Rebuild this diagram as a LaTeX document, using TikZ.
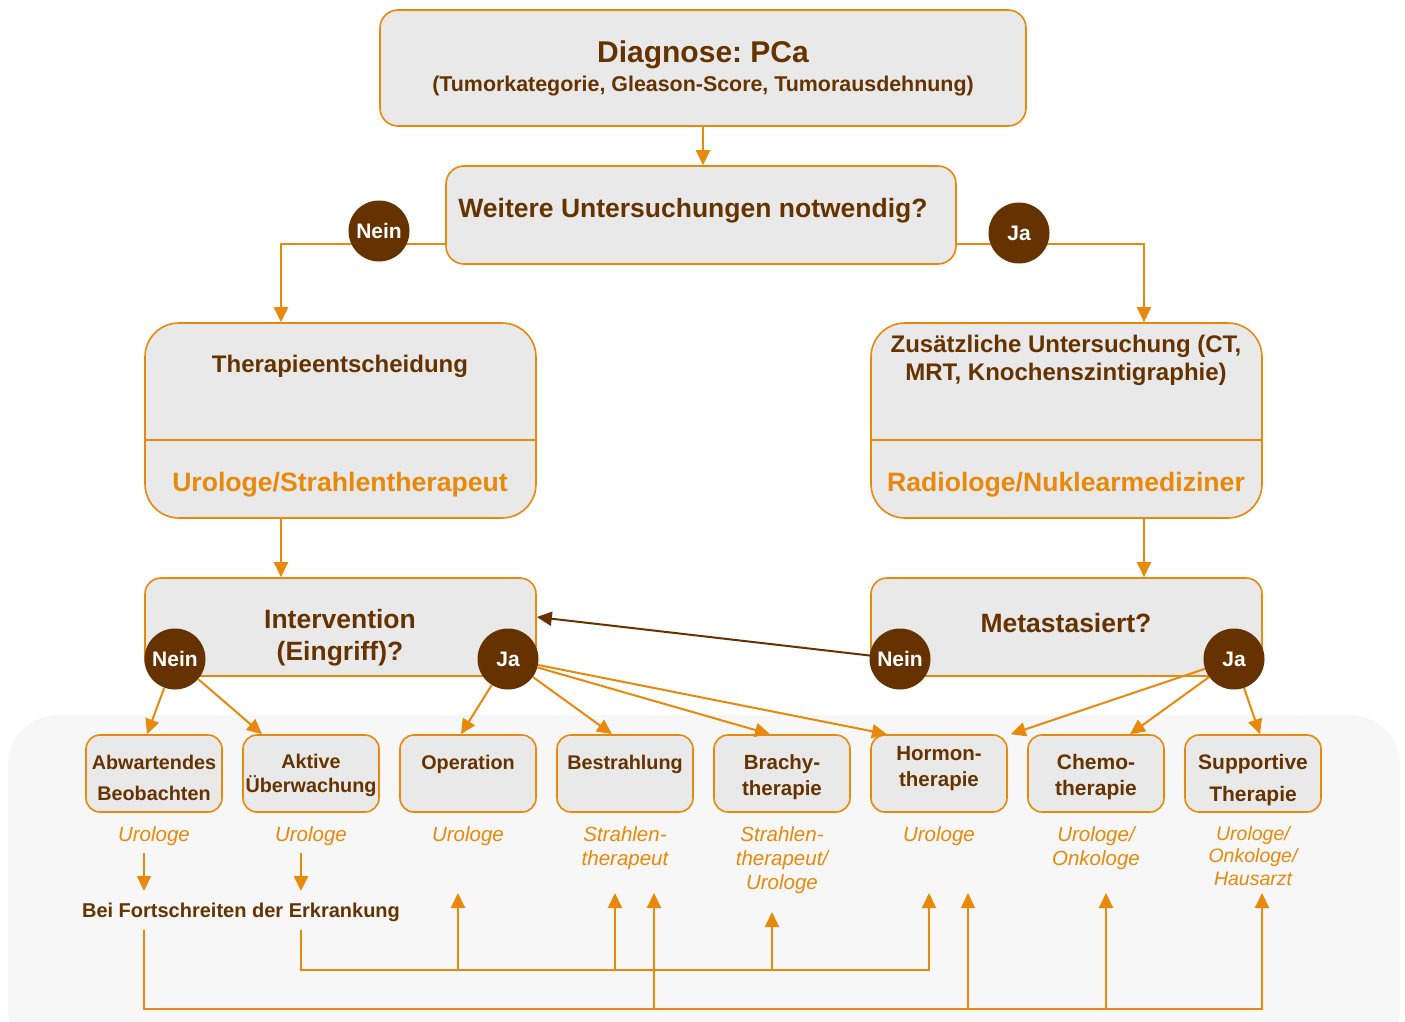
\documentclass[tikz,border=0pt]{standalone}
\usepackage{fontspec}
\setmainfont{Liberation Sans}
\usetikzlibrary{arrows.meta}
\frenchspacing
\definecolor{orC}{HTML}{E8890B}
\definecolor{brC}{HTML}{663300}
\definecolor{boxC}{HTML}{E9E9E9}
\definecolor{panC}{HTML}{F7F7F7}
\tikzset{
  box/.style={draw=orC, fill=boxC, line width=1.6pt, rounded corners=18pt, inner sep=0pt},
  bigbox/.style={box, rounded corners=34pt},
  small/.style={box, rounded corners=14pt, minimum width=136pt, minimum height=77pt},
  circ/.style={circle, fill=brC, text=white, minimum size=61pt, inner sep=0pt, font=\bfseries\fontsize{21}{24}\selectfont},
  arr/.style={draw=orC, line width=2pt, -{Triangle[width=14pt,length=15pt]}},
  arrb/.style={draw=brC, line width=2pt, -{Triangle[width=14pt,length=15pt]}},
  ln/.style={draw=orC, line width=2pt},
  ttl/.style={text=brC, font=\bfseries\fontsize{24}{28}\selectfont, align=center},
  bt/.style={text=brC, font=\bfseries\fontsize{19.8}{31}\selectfont, align=center},
  role/.style={text=orC, font=\itshape\fontsize{20.5}{24}\selectfont, align=center, anchor=north, inner sep=0pt},
  brole/.style={text=orC, font=\bfseries\fontsize{26.6}{30}\selectfont},
}
\begin{document}
\begin{tikzpicture}[x=1pt,y=-1pt]
\useasboundingbox (0,0) rectangle (1405,1021);
\fill[white] (0,0) rectangle (1405,1021);
% background panel
\fill[panC, rounded corners=50pt] (8,715) rectangle (1400,1060);

% top boxes
\node[box, minimum width=646pt, minimum height=116pt] (diag) at (703,68) {};
\node[text=brC, font=\bfseries\fontsize{30}{32}\selectfont] (diagt) at (703,55) {Diagnose: PCa};
\node[text=brC, font=\bfseries\fontsize{21.4}{24}\selectfont] (diags) at (703,86) {(Tumorkategorie, Gleason-Score, Tumorausdehnung)};

\node[box, minimum width=510pt, minimum height=98pt] (weit) at (701,215) {};
\node[text=brC, font=\bfseries\fontsize{26.5}{30}\selectfont] (weitt) at (693,211) {Weitere Untersuchungen notwendig?};

% second level
\node[bigbox, minimum width=391pt, minimum height=195pt] (ther) at (340.5,420.5) {};
\draw[ln, line width=1.6pt] (ther.west |- 0,440) -- (ther.east |- 0,440);
\node[ttl] (thert) at (340,366) {Therapieentscheidung};
\node[brole] (therr) at (340,485) {Urologe/Strahlentherapeut};

\node[bigbox, minimum width=391pt, minimum height=195pt] (zus) at (1066.5,420.5) {};
\draw[ln, line width=1.6pt] (zus.west |- 0,440) -- (zus.east |- 0,440);
\node[ttl] (zust) at (1066,360) {Zusätzliche Untersuchung (CT,\\MRT, Knochenszintigraphie)};
\node[brole] (zusr) at (1066,485) {Radiologe/Nuklearmediziner};

% third level
\node[box, rounded corners=16pt, minimum width=391pt, minimum height=98pt] (inter) at (340.5,627) {};
\node[text=brC, font=\bfseries\fontsize{26.5}{32}\selectfont, align=center] (intert) at (340,638) {Intervention\\(Eingriff)?};
\node[box, rounded corners=16pt, minimum width=391pt, minimum height=98pt] (meta) at (1066.5,627) {};
\node[text=brC, font=\bfseries\fontsize{26.5}{30}\selectfont] (metat) at (1066,623) {Metastasiert?};

% connectors top
\draw[arr] (diag.south) -- (diag.south |- weit.north);
\draw[arr] ([yshift=-29pt]weit.west) -| ([xshift=-59.5pt]ther.north);
\draw[arr] ([yshift=-29pt]weit.east) -| ([xshift=77.5pt]zus.north);
\draw[arr] ([xshift=-59.5pt]ther.south) -- ([xshift=-59.5pt]inter.north);
\draw[arr] ([xshift=77.5pt]zus.south) -- ([xshift=77.5pt]meta.north);

% bottom boxes
\node[small] (b1) at (154,773.5) {};
\node[bt] at (154,778) {Abwartendes\\Beobachten};
\node[small] (b2) at (311,773.5) {};
\node[bt, font=\bfseries\fontsize{19.8}{24}\selectfont] at (311,775) {Aktive\\Überwachung};
\node[small] (b3) at (468,773.5) {};
\node[bt] at (468,764) {Operation};
\node[small] (b4) at (625,773.5) {};
\node[bt] at (625,764) {Bestrahlung};
\node[small] (b5) at (782,773.5) {};
\node[bt, font=\bfseries\fontsize{20.5}{26}\selectfont] at (782,777) {Brachy-\\therapie};
\node[small] (b6) at (939,773.5) {};
\node[bt, font=\bfseries\fontsize{20.5}{26}\selectfont] at (939,769) {Hormon-\\therapie};
\node[small] (b7) at (1096,773.5) {};
\node[bt, font=\bfseries\fontsize{21}{26}\selectfont] at (1096,777) {Chemo-\\therapie};
\node[small] (b8) at (1253,773.5) {};
\node[bt, font=\bfseries\fontsize{21}{32}\selectfont] at (1253,780) {Supportive\\Therapie};

% roles
\node[role] (r1) at (154,826) {Urologe};
\node[role] (r2) at (311,826) {Urologe};
\node[role] (r3) at (468,826) {Urologe};
\node[role] (r4) at (625,826) {Strahlen-\\therapeut};
\node[role] (r5) at (782,826) {Strahlen-\\therapeut/\\Urologe};
\node[role] (r6) at (939,826) {Urologe};
\node[role] (r7) at (1096,826) {Urologe/\\Onkologe};
\node[role, font=\itshape\fontsize{19.5}{22.5}\selectfont] (r8) at (1253,826) {Urologe/\\Onkologe/\\Hausarzt};

\node[text=brC, font=\bfseries\fontsize{20}{22}\selectfont] (bei) at (241,912) {Bei Fortschreiten der Erkrankung};

% decision circles
\node[circ] (nein1) at (379,231) {Nein};
\node[circ] (ja1) at (1019,233) {Ja};
\draw[arrb] (900,659) -- ([yshift=10pt]inter.east);
\node[circ] (nein2) at (175,659) {Nein};
\node[circ] (ja2) at (508,659) {Ja};
\node[circ] (nein3) at (900,659) {Nein};
\node[circ] (ja3) at (1234,659) {Ja};

% circle connectors
\draw[arr] (nein2) -- ([xshift=-7pt]b1.north);
\draw[arr] (nein2) -- ([xshift=-49pt]b2.north);
\draw[arr] (ja2) -- ([xshift=-7pt]b3.north);
\draw[arr] (ja2) -- ([xshift=-13pt]b4.north);
\draw[arr] (ja2) -- ([xshift=-12pt]b5.north);
\draw[arr] (ja2) -- ([xshift=-52pt]b6.north);
\draw[arr] (ja3) -- ([xshift=3pt]b6.north east);
\draw[arr] (ja3) -- ([xshift=34pt]b7.north);
\draw[arr] (ja3) -- ([xshift=7pt]b8.north);

% progression arrows
\coordinate (d1a) at (144,853);
\coordinate (d1b) at (144,891);
\coordinate (d2a) at (301,853);
\coordinate (d2b) at (301,891);
\draw[arr] (d1a) -- (d1b);
\draw[arr] (d2a) -- (d2b);

\coordinate (p1) at (144,930);
\coordinate (p2) at (301,930);
\coordinate (l1) at (144,1009);
\coordinate (l2) at (301,970);
\draw[ln] (p1) -- (l1) -- (1262,1009);
\draw[ln] (p2) -- (l2) -- (929,970);
\draw[arr] (929,971) -- (929,893);
\draw[arr] (458,971) -- (458,893);
\draw[arr] (615,971) -- (615,893);
\draw[arr] (772,971) -- (772,912);
\draw[arr] (1262,1010) -- (1262,893);
\draw[arr] (654,1010) -- (654,893);
\draw[arr] (968,1010) -- (968,893);
\draw[arr] (1106,1010) -- (1106,893);
\end{tikzpicture}
\end{document}
